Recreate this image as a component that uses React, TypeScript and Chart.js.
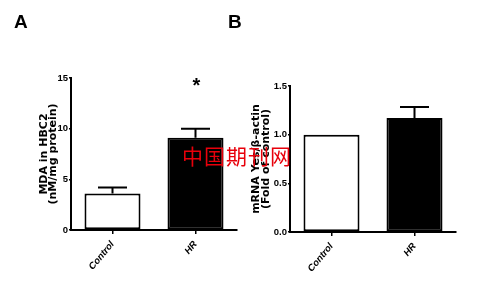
import React, { useEffect, useRef } from "react";
import { Chart, registerables } from "chart.js";

Chart.register(...registerables);

// ---- Data ----
const categories = ["Control", "HR"];
const mdaMeans = [3.6, 9.1];
const mdaErrors = [0.6, 0.9];
const mdaTicks = [0, 5, 10, 15];
const yesMeans = [1.0, 1.17];
const yesErrors = [0, 0.115];
const yesTicks = [0, 0.5, 1.0, 1.5];
const barFills = ["#ffffff", "#000000"];
const titleA = ["MDA in HBC2", "(nM/mg protein)"];
const titleB = ["mRNA Yes/β-actin", "(Fold of control)"];
const significance = ["", "*"];

const errorBarPlugin = {
  id: "errorBars",
  afterDatasetsDraw(chart: any) {
    const errs: number[] = chart.options.plugins.errorBars?.errors || [];
    const marks: string[] = chart.options.plugins.errorBars?.marks || [];
    const ctx = chart.ctx;
    const meta = chart.getDatasetMeta(0);
    const yScale = chart.scales.y;
    const data = chart.data.datasets[0].data as number[];
    ctx.save();
    ctx.strokeStyle = "#000";
    ctx.lineWidth = 2;
    meta.data.forEach((bar: any, i: number) => {
      const e = errs[i] || 0;
      if (e > 0) {
        const yTop = yScale.getPixelForValue(data[i] + e);
        const yBase = yScale.getPixelForValue(data[i]);
        ctx.beginPath();
        ctx.moveTo(bar.x, yBase);
        ctx.lineTo(bar.x, yTop);
        ctx.moveTo(bar.x - 14.5, yTop);
        ctx.lineTo(bar.x + 14.5, yTop);
        ctx.stroke();
      }
      if (marks[i]) {
        ctx.fillStyle = "#000";
        ctx.font = "bold 20px 'Liberation Sans', Arial, sans-serif";
        ctx.textAlign = "center";
        ctx.textBaseline = "top";
        ctx.fillText(marks[i], bar.x + 1, yScale.getPixelForValue(yScale.max) - 2);
      }
    });
    ctx.restore();
  },
};

const tickFamily = "'Liberation Sans Narrow', 'Liberation Sans', Arial, sans-serif";

function makeConfig(
  means: number[],
  errors: number[],
  ticks: number[],
  title: string[],
  decimals: number,
  yWidth: number,
  titlePad: number,
  lineHeight: number,
  padding: any,
  xHeight: number
): any {
  return {
    type: "bar",
    data: {
      labels: categories,
      datasets: [
        {
          data: means,
          backgroundColor: barFills,
          borderColor: "#000",
          borderWidth: 2,
          borderSkipped: false,
          barPercentage: 0.675,
          categoryPercentage: 1,
        },
      ],
    },
    plugins: [errorBarPlugin],
    options: {
      animation: false,
      responsive: false,
      maintainAspectRatio: false,
      events: [],
      layout: { padding },
      plugins: {
        legend: { display: false },
        tooltip: { enabled: false },
        errorBars: { errors, marks: errors === mdaErrors ? significance : [] },
      },
      scales: {
        x: {
          offset: true,
          border: { display: true, color: "#000", width: 2 },
          grid: {
            display: true,
            offset: false,
            drawOnChartArea: false,
            drawTicks: true,
            tickLength: 4,
            color: "#000",
            lineWidth: 1.5,
          },
          ticks: {
            color: "#000",
            minRotation: 50,
            maxRotation: 50,
            padding: 5,
            font: { family: "'Liberation Sans', Arial, sans-serif", size: 9.5, weight: "bold", style: "italic" },
          },
          afterFit(s: any) {
            s.height = xHeight;
          },
        },
        y: {
          min: ticks[0],
          max: ticks[ticks.length - 1],
          border: { display: true, color: "#000", width: 2 },
          grid: {
            display: true,
            drawOnChartArea: false,
            drawTicks: true,
            tickLength: 2,
            color: "#000",
            lineWidth: 1.5,
          },
          afterBuildTicks(s: any) {
            s.ticks = ticks.map((v) => ({ value: v }));
          },
          ticks: {
            color: "#000",
            padding: 1,
            font: { family: tickFamily, size: 9.5, weight: "bold" },
            callback: (v: any) => Number(v).toFixed(decimals),
          },
          title: {
            display: true,
            text: title,
            color: "#000",
            padding: { top: titlePad, bottom: 0 },
            font: { family: "'DejaVu Sans', sans-serif", size: 11, weight: "bold", lineHeight },
          },
          afterFit(s: any) {
            s.width = yWidth;
          },
        },
      },
    },
  };
}

function Panel(props: { left: number; width: number; config: any }) {
  const ref = useRef<HTMLCanvasElement | null>(null);
  useEffect(() => {
    if (!ref.current) return;
    const chart = new Chart(ref.current, props.config);
    return () => chart.destroy();
  }, []);
  return (
    <canvas
      ref={ref}
      width={props.width}
      height={290}
      style={{ position: "absolute", left: props.left, top: 0, width: props.width, height: 290 }}
    />
  );
}

export default function App() {
  const cfgA = makeConfig(mdaMeans, mdaErrors, mdaTicks, titleA, 0, 71, 39, 0.85, { left: 0, right: 3, top: 78, bottom: 0 }, 60);
  const cfgB = makeConfig(yesMeans, yesErrors, yesTicks, titleB, 1, 50, 11, 0.9, { left: 0, right: 21, top: 86, bottom: 0 }, 58);
  const letter: React.CSSProperties = {
    position: "absolute",
    top: 10,
    fontFamily: "'Liberation Sans', Arial, sans-serif",
    fontWeight: "bold",
    fontSize: 19,
    color: "#000",
    lineHeight: "24px",
  };
  return (
    <div style={{ position: "absolute", left: 0, top: 0, width: 477, height: 290, background: "#fff", overflow: "hidden" }}>
      <Panel left={0} width={240} config={cfgA} />
      <Panel left={240} width={237} config={cfgB} />
      <div style={{ ...letter, left: 14 }}>A</div>
      <div style={{ ...letter, left: 228 }}>B</div>
      <div
        style={{
          position: "absolute",
          left: 182,
          top: 143,
          fontFamily: "'Noto Sans CJK SC', sans-serif",
          fontSize: 21,
          lineHeight: "24px",
          color: "#e8000b",
          letterSpacing: 1,
          whiteSpace: "nowrap",
        }}
      >
        中国期刊网
      </div>
    </div>
  );
}
